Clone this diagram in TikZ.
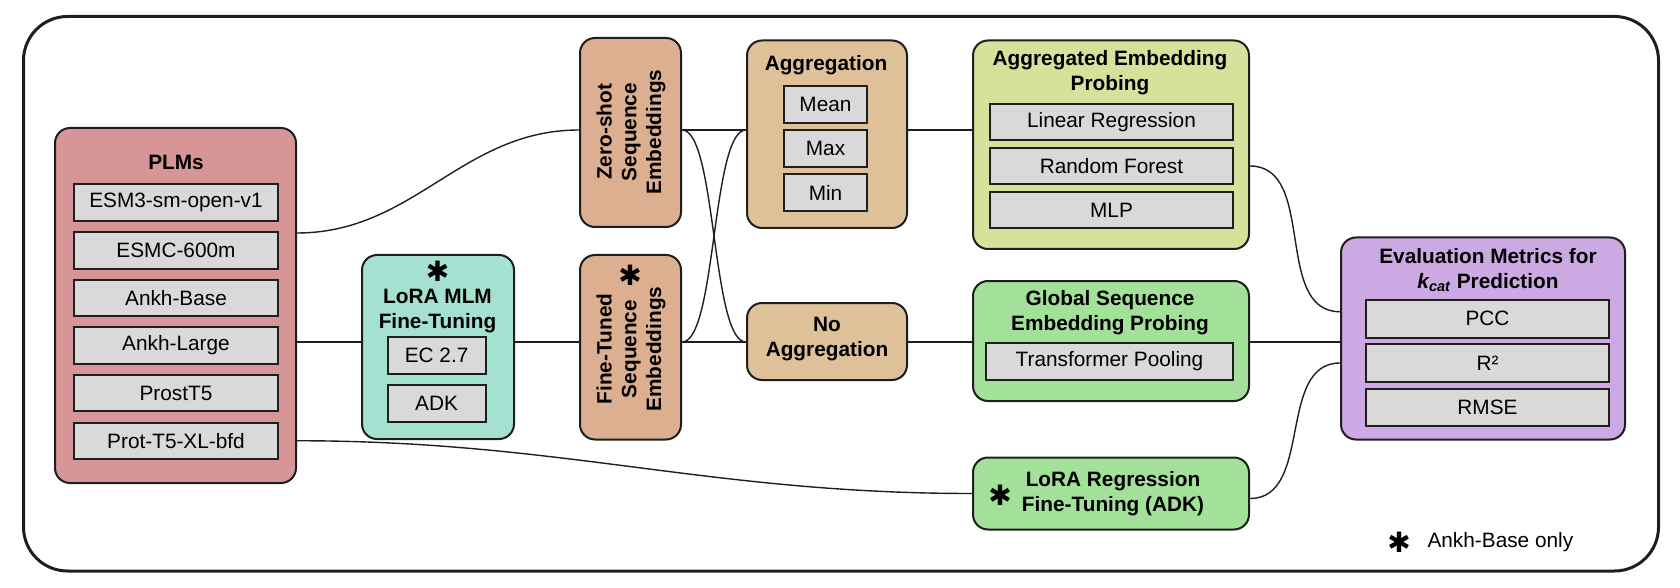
\documentclass[tikz,border=0pt]{standalone}
\usepackage{fontspec}
\setmainfont{Liberation Sans}
\newfontfamily\markfont{DejaVu Sans}
\usetikzlibrary{positioning, calc}

\definecolor{plmred}{HTML}{D69596}
\definecolor{loramint}{HTML}{A4E1D0}
\definecolor{embtan}{HTML}{DCAF91}
\definecolor{aggtan}{HTML}{DEC198}
\definecolor{probelime}{HTML}{D5E29C}
\definecolor{probegreen}{HTML}{A3E09A}
\definecolor{evallilac}{HTML}{CDA9E3}
\definecolor{itemgray}{HTML}{D9D9D9}
\definecolor{edgegray}{HTML}{1E1E1E}

\newcommand{\ankhmark}{{\markfont\fontsize{14}{14}\selectfont ✱}}

\begin{document}
\begin{tikzpicture}[x=0.5pt, y=-0.5pt,
    font=\fontsize{10.4}{12.4}\selectfont,
    group/.style={draw=edgegray, line width=1pt, rounded corners=7.5pt},
    item/.style={draw=edgegray, line width=1pt, fill=itemgray, inner sep=0pt, minimum height=18.25pt},
    heading/.style={font=\fontsize{10.4}{12.4}\selectfont\bfseries, align=center, inner sep=0pt},
    link/.style={draw=edgegray, line width=0.7pt}]
    \useasboundingbox (0,0) rectangle (1680,588);

    % Outer frame
    \draw[edgegray, line width=1.5pt, rounded corners=22pt] (23.5,16.5) rectangle (1658.5,571);

    % PLMs
    \node[group, fill=plmred, minimum width=120.5pt, minimum height=177.5pt] (plms) at (175.5,305.5) {};
    \node[heading] (plmtitle) at (176,162) {PLMs};
    \foreach \name/\txt [count=\i from 0] in {p1/ESM3-sm-open-v1, p2/ESMC-600m, p3/Ankh-Base, p4/Ankh-Large, p5/ProstT5, p6/Prot-T5-XL-bfd} {
        \node[item, minimum width=102pt] (\name) at (176, {202.75+47.6*\i}) {\txt};
    }

    % LoRA MLM fine-tuning
    \node[group, fill=loramint, minimum width=76pt, minimum height=92pt] (lora) at (438,347) {};
    \node[heading] (loratitle) at (437.5,311) {LoRA MLM\\Fine-Tuning};
    \node[inner sep=0pt] (lorastar) at (437.5,271) {\ankhmark};
    \node[item, minimum width=49pt, minimum height=18.5pt] (ec) at (436.6,355.75) {EC 2.7};
    \node[item, minimum width=49pt, minimum height=18.5pt] (adk) at (436.6,403.5) {ADK};

    % Embeddings
    \node[group, fill=embtan, minimum width=50.5pt, minimum height=94.5pt] (zs) at (630.5,132.5) {};
    \node[heading, rotate=90] (zstext) at (631,132) {Zero-shot\\Sequence\\Embeddings};
    \node[group, fill=embtan, minimum width=50.5pt, minimum height=92.25pt] (ft) at (630.5,347.25) {};
    \node[heading, rotate=90] (fttext) at (631,349) {Fine-Tuned\\Sequence\\Embeddings};
    \node[inner sep=0pt] (ftstar) at (630,275) {\ankhmark};

    % Aggregation
    \node[group, fill=aggtan, minimum width=80pt, minimum height=93.75pt] (agg) at (827,134.25) {};
    \node[heading] (aggtitle) at (826,65) {Aggregation};
    \foreach \name/\txt/\y in {mean/Mean/104.5, max/Max/148.5, min/Min/192.5} {
        \node[item, minimum width=41.5pt, minimum height=18.5pt] (\name) at (825.5,\y) {\txt};
    }
    \node[group, fill=aggtan, minimum width=80pt, minimum height=38.5pt] (noagg) at (827,341.5) {};
    \node[heading] (noaggtext) at (827,339) {No\\Aggregation};

    % Probing
    \node[group, fill=probelime, minimum width=138pt, minimum height=104.25pt] (aep) at (1111,144.75) {};
    \node[heading] (aeptitle) at (1110,73) {Aggregated Embedding\\Probing};
    \foreach \name/\txt/\y in {lr/Linear Regression/122, rf/Random Forest/166, mlp/MLP/210} {
        \node[item, minimum width=121.5pt, minimum height=18pt] (\name) at (1111.5,\y) {\txt};
    }
    \node[group, fill=probegreen, minimum width=138pt, minimum height=60pt] (glob) at (1111,341) {};
    \node[heading] (globtitle) at (1110,313) {Global Sequence\\Embedding Probing};
    \node[item, minimum width=123.5pt, minimum height=18.5pt] (tp) at (1109.5,361.5) {Transformer Pooling};
    \node[group, fill=probegreen, minimum width=138pt, minimum height=36pt] (lorareg) at (1111,493.5) {};
    \node[heading] (loregtitle) at (1113,494) {LoRA Regression\\Fine-Tuning (ADK)};
    \node[inner sep=0pt] (regstar) at (1000,495) {\ankhmark};

    % Evaluation
    \node[group, fill=evallilac, minimum width=142pt, minimum height=101pt] (eval) at (1483,338.5) {};
    \node[heading] (evaltitle) at (1488,270) {Evaluation Metrics for\\{\itshape k\textsubscript{cat}} Prediction};
    \foreach \name/\txt/\y in {pcc/PCC/318.75, r2/R²/363, rmse/RMSE/407.5} {
        \node[item, minimum width=121.5pt, minimum height=18.75pt] (\name) at (1487.5,\y) {\txt};
    }

    % Legend
    \node[inner sep=0pt] (legstar) at (1399,542) {\ankhmark};
    \node[right=8pt of legstar, inner sep=0pt] (legtext) {Ankh-Base only};

    % Connectors
    \coordinate (toprow) at (0,130);
    \coordinate (midrow) at (0,342);
    \draw[link] ($(plms.east)+(0,-72.5)$) to[out=0, in=180] (zs.west |- toprow);
    \draw[link] (plms.east |- midrow) -- (lora.west |- midrow);
    \draw[link] (lora.east |- midrow) -- (ft.west |- midrow);
    \draw[link] (zs.east |- toprow) -- (agg.west |- toprow);
    \draw[link] (zs.east |- toprow) to[out=0, in=180, looseness=0.4] (noagg.west |- midrow);
    \draw[link] (ft.east |- midrow) -- (noagg.west |- midrow);
    \draw[link] (ft.east |- midrow) to[out=0, in=180, looseness=0.4] (agg.west |- toprow);
    \draw[link] (agg.east |- toprow) -- (aep.west |- toprow);
    \draw[link] (noagg.east |- midrow) -- (glob.west |- midrow);
    \draw[link] (plms.east |- p6) to[out=0, in=180] (lorareg.west);
    \draw[link] (aep.east |- rf) to[out=0, in=180] ($(eval.west |- pcc)+(0,-7)$);
    \draw[link] (glob.east |- midrow) -- (eval.west |- midrow);
    \draw[link] ($(lorareg.east)+(0,5)$) to[out=0, in=180] (eval.west |- r2);
\end{tikzpicture}
\end{document}
